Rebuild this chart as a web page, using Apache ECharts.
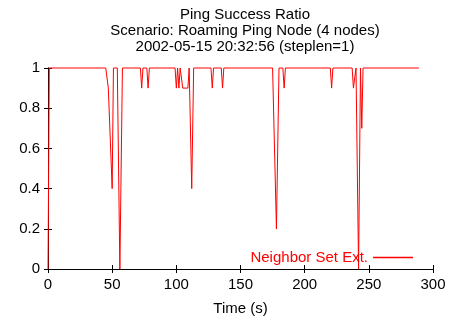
<!DOCTYPE html>
<html>
<head>
<meta charset="utf-8">
<script src="https://cdn.jsdelivr.net/npm/echarts@6/dist/echarts.min.js"></script>
<style>html,body{margin:0;padding:0;background:#fff}#c{width:457px;height:325px}</style>
</head>
<body>
<div id="c"></div>
<script>
var titleLines = ['Ping Success Ratio', 'Scenario: Roaming Ping Node (4 nodes)', '2002-05-15 20:32:56 (steplen=1)'];
var seriesName = 'Neighbor Set Ext.';
var xTitle = 'Time (s)';
var times = [0, 1, 45, 47, 48, 50, 51, 54, 56, 58, 72, 73, 74, 77, 78, 79, 99, 100, 101, 102, 103, 105, 109, 110, 112, 113.5, 127, 128, 129, 135, 136, 137, 175, 178, 180, 183, 184, 185, 220, 221, 222, 237, 238, 239, 240, 242, 243.5, 244.5, 245.5, 289];
var values = [0, 1, 1, 0.9, 0.9, 0.4, 1, 1, 0, 1, 1, 0.9, 1, 1, 0.9, 1, 1, 0.9, 1, 0.9, 1, 0.9, 0.9, 1, 0.4, 1, 1, 0.9, 1, 1, 0.9, 1, 1, 0.2, 1, 1, 0.9, 1, 1, 0.9, 1, 1, 0.9, 0.9, 1, 0, 1, 0.7, 1, 1];
var xMin = 0, xMax = 300, xStep = 50;
var yMin = 0, yMax = 1, yStep = 0.2;

var FONT = 'Liberation Sans';
var FS = 15;
var chart = echarts.init(document.getElementById('c'), null, {renderer: 'canvas'});
var axisCommon = {
  axisLine: {show: true, lineStyle: {color: '#000', width: 1}},
  axisTick: {show: true, inside: true, length: 4, lineStyle: {color: '#000'}},
  splitLine: {show: false}
};
chart.setOption({
  animation: false,
  backgroundColor: '#fff',
  title: {
    text: titleLines.join('\n'),
    left: 240, textAlign: 'center', top: 2,
    textStyle: {fontFamily: FONT, fontSize: FS, fontWeight: 'normal', color: '#000', lineHeight: 16}
  },
  legend: {
    data: [seriesName],
    right: 44, top: 250, padding: 0,
    align: 'right',
    icon: 'rect', itemWidth: 40, itemHeight: 1.5,
    itemStyle: {color: '#ff0000', borderWidth: 0},
    lineStyle: {width: 0},
    textStyle: {fontFamily: FONT, fontSize: FS, color: '#ff0000'}
  },
  grid: {left: 48, right: 24, top: 68, bottom: 56, containLabel: false},
  xAxis: [
    Object.assign({type: 'value', min: xMin, max: xMax, interval: xStep, position: 'bottom',
      name: xTitle, nameLocation: 'middle', nameGap: 32,
      nameTextStyle: {fontFamily: FONT, fontSize: FS, color: '#000'},
      axisLabel: {fontFamily: FONT, fontSize: FS, color: '#000', margin: 8}}, axisCommon),
    Object.assign({type: 'value', min: xMin, max: xMax, interval: xStep, position: 'top',
      axisLabel: {show: false}}, axisCommon)
  ],
  yAxis: [
    Object.assign({type: 'value', min: yMin, max: yMax, interval: yStep, position: 'left',
      axisLabel: {fontFamily: FONT, fontSize: FS, color: '#000', margin: 8}}, axisCommon),
    Object.assign({type: 'value', min: yMin, max: yMax, interval: yStep, position: 'right',
      axisLabel: {show: false}}, axisCommon)
  ],
  series: [{
    name: seriesName,
    type: 'line',
    xAxisIndex: 0, yAxisIndex: 0,
    data: times.map(function (t, i) { return [t, values[i]]; }),
    showSymbol: false, symbol: 'none',
    clip: false,
    lineStyle: {color: '#ff0000', width: 1},
    itemStyle: {color: '#ff0000'}
  }]
});
</script>
</body>
</html>
